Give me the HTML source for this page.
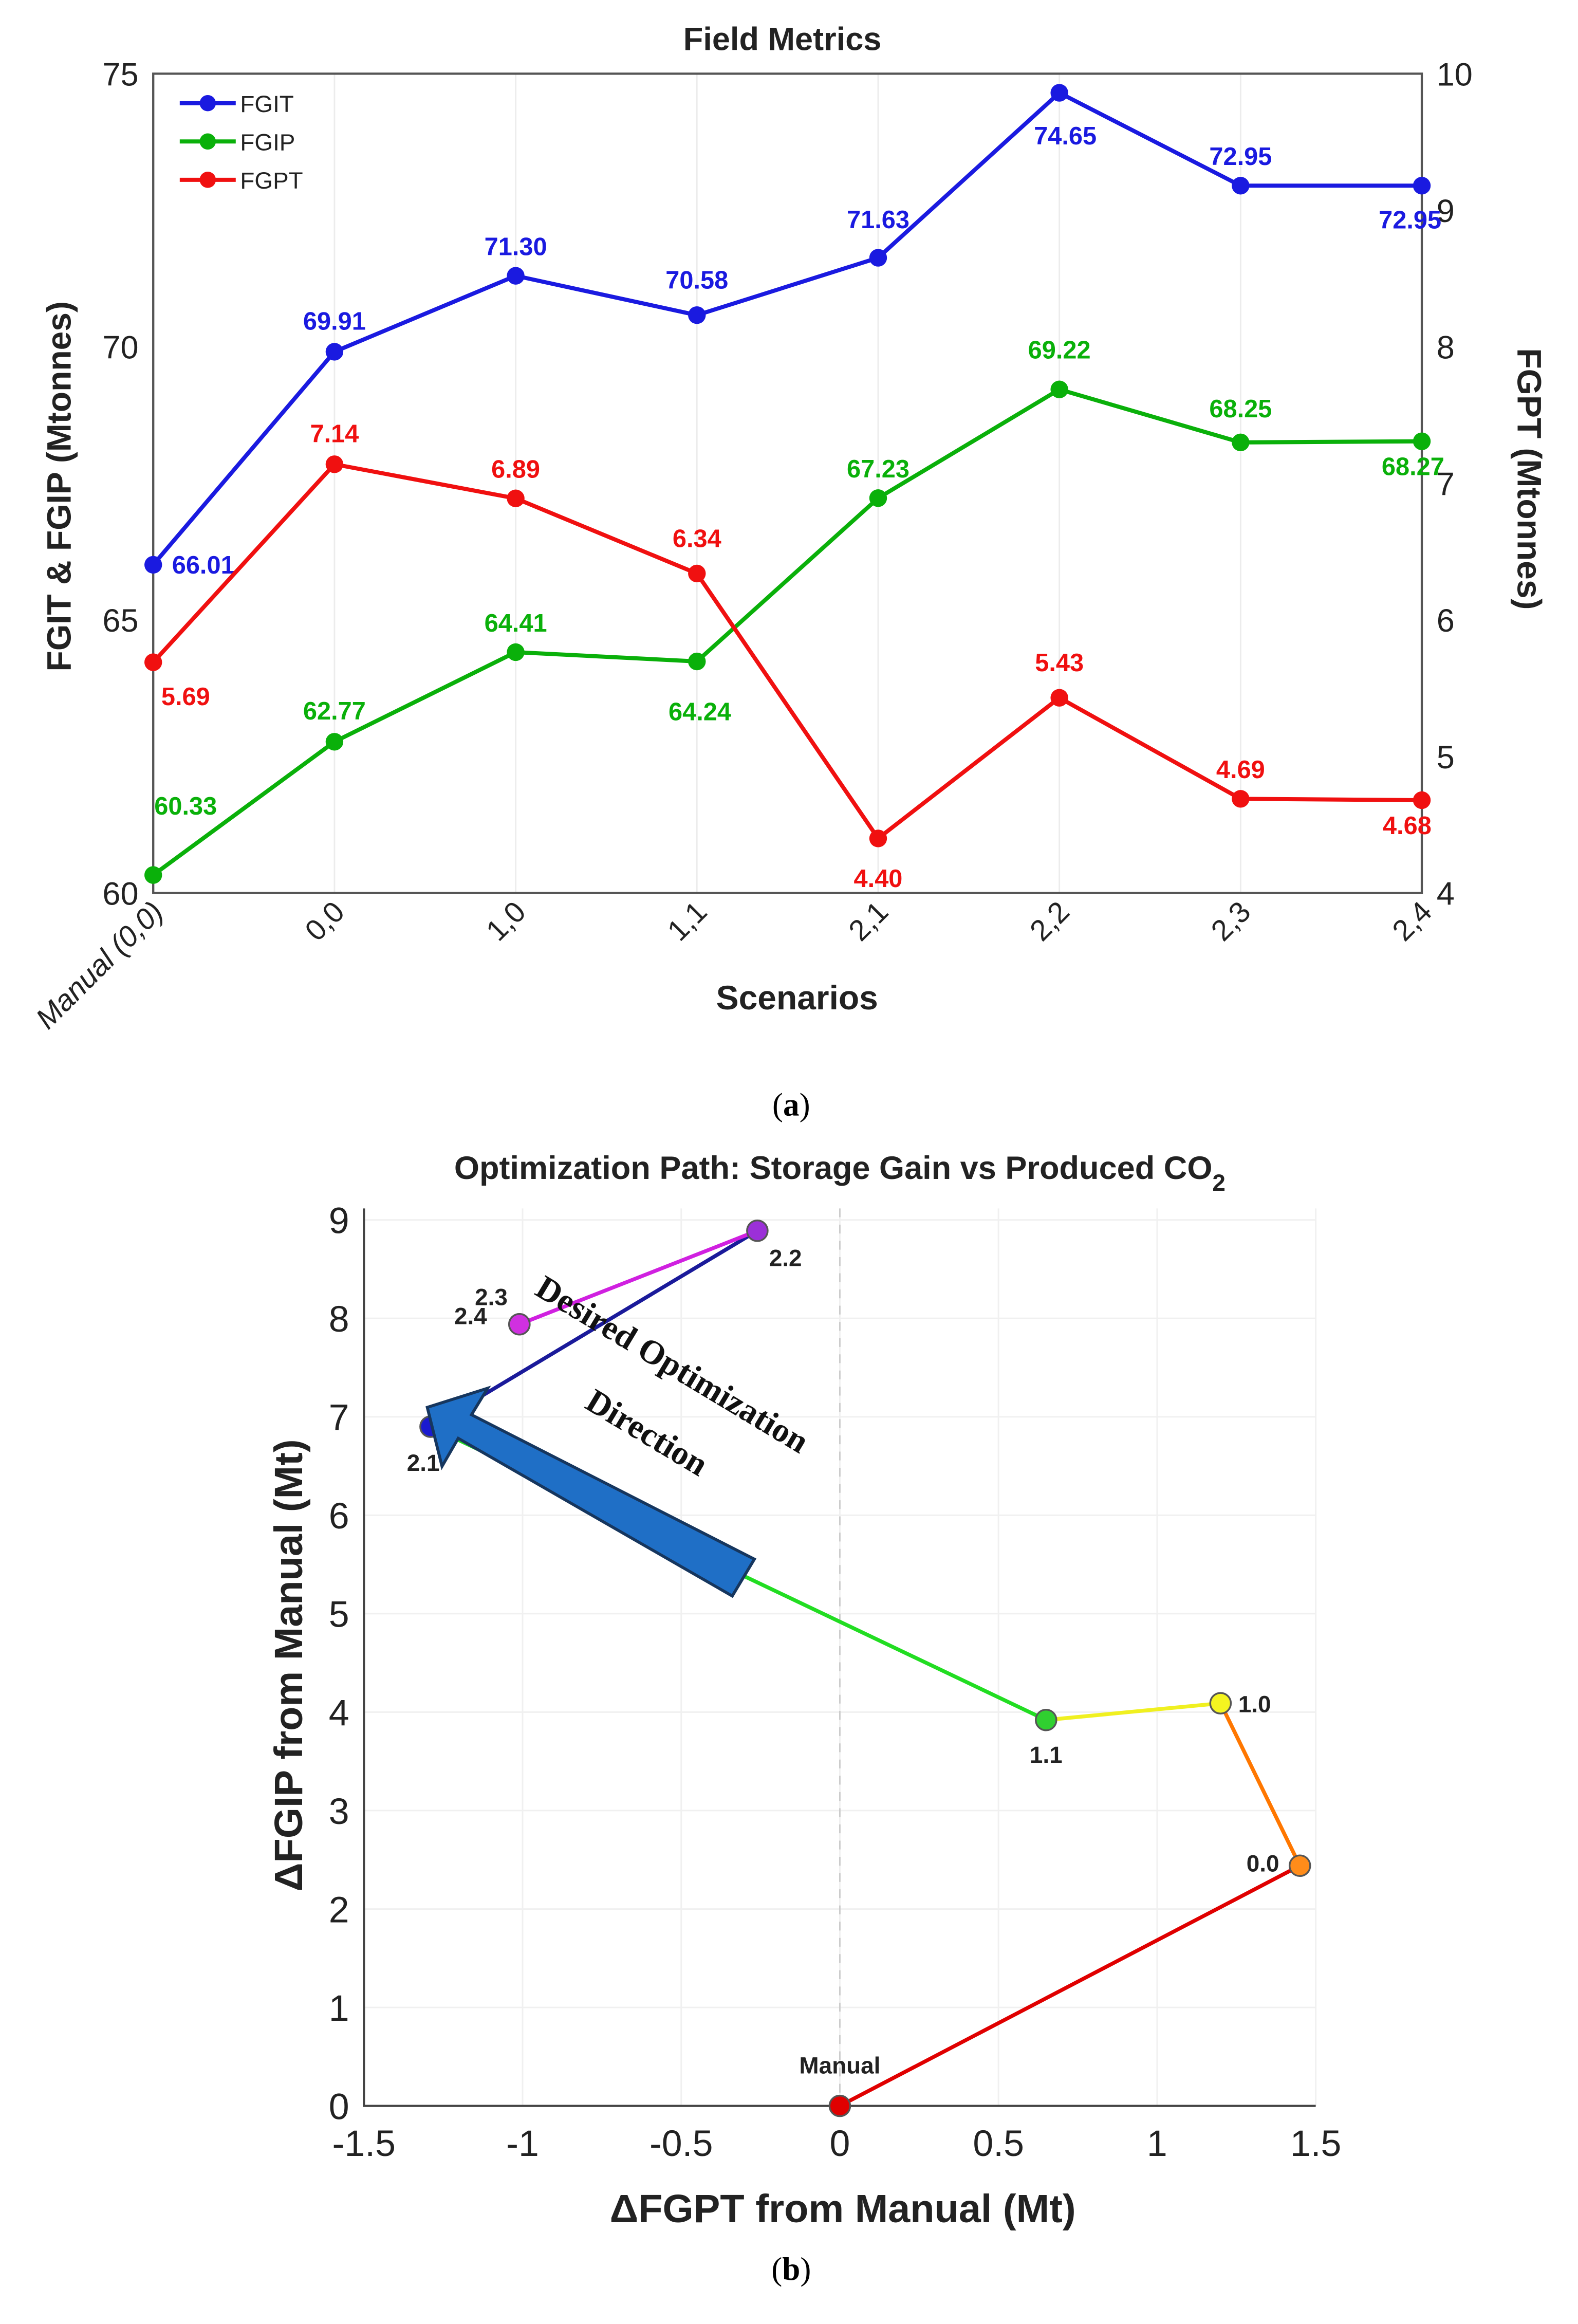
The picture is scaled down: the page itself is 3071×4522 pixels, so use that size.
<!DOCTYPE html>
<html><head><meta charset="utf-8"><style>
html,body{margin:0;padding:0;background:#fff;}
svg{display:block;}
text{font-family:"Liberation Sans",sans-serif;}
</style></head><body>
<svg id="s" width="3071" height="4522" viewBox="0 0 1071 1577" preserveAspectRatio="none">
<g id="ga"></g>
<g id="gb"></g>
<text x="537" y="757" text-anchor="middle" font-size="22" style="font-family:'Liberation Serif',serif">(<tspan font-weight="bold">a</tspan>)</text>
<text x="537" y="1547" text-anchor="middle" font-size="22" style="font-family:'Liberation Serif',serif">(<tspan font-weight="bold">b</tspan>)</text>
</svg>
<script>
const categories=["Manual (0,0)","0,0","1,0","1,1","2,1","2,2","2,3","2,4"];
const fgit=[66.01,69.91,71.30,70.58,71.63,74.65,72.95,72.95];
const fgip=[60.33,62.77,64.41,64.24,67.23,69.22,68.25,68.27];
const fgpt=[5.69,7.14,6.89,6.34,4.40,5.43,4.69,4.68];
const leftTicks=[60,65,70,75];
const rightTicks=[4,5,6,7,8,9,10];
const pathLabels=["Manual","0.0","1.0","1.1","2.1","2.2","2.3","2.4"];
const dFGPT=[0,1.45,1.20,0.65,-1.29,-0.26,-1.01,-1.01];
const dFGIP=[0,2.44,4.09,3.92,6.90,8.89,7.94,7.94];
const xTicksB=[-1.5,-1,-0.5,0,0.5,1,1.5];
const yTicksB=[0,1,2,3,4,5,6,7,8,9];
const NS="http://www.w3.org/2000/svg";
function mk(p,tag,at,txt){const e=document.createElementNS(NS,tag);for(const k in at)e.setAttribute(k,at[k]);if(txt!==undefined)e.textContent=txt;p.appendChild(e);return e;}
// ---- chart a
const ga=document.getElementById('ga');
const L=104,R=965,T=50,B=606;
const xa=i=>L+i*(R-L)/(categories.length-1);
const yl=v=>B-(v-60)/(75-60)*(B-T);
const yr=v=>B-(v-4)/(10-4)*(B-T);
for(let i=0;i<categories.length;i++){let g=mk(ga,'line',{x1:xa(i),x2:xa(i),y1:T,y2:B,stroke:'#ececec','stroke-width':1});

}
let fr=mk(ga,'rect',{x:L,y:T,width:R-L,height:B-T,fill:'none',stroke:'#555','stroke-width':1.5});


leftTicks.forEach(v=>{let t=mk(ga,'text',{x:L-10,y:yl(v)+8,'text-anchor':'end','font-size':22,fill:'#222'},v);

});
rightTicks.forEach(v=>{let t=mk(ga,'text',{x:R+10,y:yr(v)+8,'font-size':22,fill:'#222'},v);

});
categories.forEach((c,i)=>{let t=mk(ga,'text',{x:xa(i)+8,y:B+14,'text-anchor':'end','font-size':20,fill:'#222',transform:`rotate(-45 ${xa(i)+8} ${B+14})`,'font-style':i==0?'italic':'normal'},c);

});
function series(vals,yf,col,name,offs){
 let d=vals.map((v,i)=>(i?'L':'M')+xa(i)+' '+yf(v)).join(' ');
 let p=mk(ga,'path',{d:d,fill:'none',stroke:col,'stroke-width':2.8});
 
 
 vals.forEach((v,i)=>{let c=mk(ga,'circle',{cx:xa(i),cy:yf(v),r:6,fill:col});
 
 
 let o=offs[i];
 let t=mk(ga,'text',{x:xa(i)+o[0],y:yf(v)+o[1],'text-anchor':'middle','font-size':17,'font-weight':'bold',fill:col},v.toFixed(2));
 
 });
}
series(fgit,yl,'#1a1ae0','fgit',[[34,6],[0,-15],[0,-14],[0,-18],[0,-20],[4,35],[0,-14],[-8,29]]);
series(fgip,yl,'#0ab00a','fgip',[[22,-41],[0,-15],[0,-14],[2,40],[0,-14],[0,-21],[0,-17],[-6,23]]);
series(fgpt,yr,'#f01010','fgpt',[[22,29],[0,-15],[0,-14],[0,-18],[0,33],[0,-18],[0,-14],[-10,23]]);
const leg=[['FGIT','#1a1ae0'],['FGIP','#0ab00a'],['FGPT','#f01010']];
leg.forEach((l,i)=>{let y=70+i*26;
let ln=mk(ga,'line',{x1:122,x2:160,y1:y,y2:y,stroke:l[1],'stroke-width':2.8});


let c=mk(ga,'circle',{cx:141,cy:y,r:5.5,fill:l[1]});


let t=mk(ga,'text',{x:163,y:y+6,'font-size':16,fill:'#222'},l[0]);

});
let t1=mk(ga,'text',{x:531,y:34,'text-anchor':'middle','font-size':22,'font-weight':'bold',fill:'#222'},'Field Metrics');


let t2=mk(ga,'text',{x:0,y:0,'text-anchor':'middle','font-size':23,'font-weight':'bold',fill:'#222',transform:'translate(48 330) rotate(-90)'},'FGIT & FGIP (Mtonnes)');


let t3=mk(ga,'text',{x:0,y:0,'text-anchor':'middle','font-size':23,'font-weight':'bold',fill:'#222',transform:'translate(1030 325) rotate(90)'},'FGPT (Mtonnes)');


let t4=mk(ga,'text',{x:541,y:685,'text-anchor':'middle','font-size':23,'font-weight':'bold',fill:'#222'},'Scenarios');


// ---- chart b
const gb=document.getElementById('gb');
const bL=247,bR=893,bT=820,bB=1429;
const xb=v=>bL+(v+1.5)/3*(bR-bL);
const ybb=v=>bB-v*66.8;
xTicksB.forEach(v=>{let g=mk(gb,'line',{x1:xb(v),x2:xb(v),y1:bT,y2:bB,stroke:'#f0f0f0'});


let t=mk(gb,'text',{x:xb(v),y:bB+34,'text-anchor':'middle','font-size':25,fill:'#222'},v);

});
yTicksB.forEach(v=>{let g=mk(gb,'line',{x1:bL,x2:bR,y1:ybb(v),y2:ybb(v),stroke:'#f0f0f0'});


let t=mk(gb,'text',{x:bL-10,y:ybb(v)+9,'text-anchor':'end','font-size':25,fill:'#222'},v);

});
let ax=mk(gb,'path',{d:`M${bL} ${bT} L${bL} ${bB} L${bR} ${bB}`,fill:'none',stroke:'#444','stroke-width':1.5});


let dz=mk(gb,'line',{x1:xb(0),x2:xb(0),y1:bT,y2:bB,stroke:'#ccc','stroke-dasharray':'6 5'});


const segCols=['#e00000','#ff7700','#f0f020','#22dd22','#1a1a9a','#d020e0','#d020e0'];
const ptCols=['#e00000','#ff8c1a','#f5f520','#30d030','#1a1ad0','#9b30d8','#d030e0','#d030e0'];
for(let i=0;i<dFGPT.length-1;i++){let l=mk(gb,'line',{x1:xb(dFGPT[i]),y1:ybb(dFGIP[i]),x2:xb(dFGPT[i+1]),y2:ybb(dFGIP[i+1]),stroke:segCols[i],'stroke-width':2.6});

}
const lo=[[0,-22,'middle'],[-14,4,'end'],[12,6,'start'],[0,29,'middle'],[-5,30,'middle'],[8,24,'start'],[-8,-13,'end'],[-22,0,'end']];
dFGPT.forEach((v,i)=>{let c=mk(gb,'circle',{cx:xb(v),cy:ybb(dFGIP[i]),r:7,fill:ptCols[i],stroke:'#555','stroke-width':1.2});


let t=mk(gb,'text',{x:xb(v)+lo[i][0],y:ybb(dFGIP[i])+lo[i][1],'text-anchor':lo[i][2],'font-size':16,'font-weight':'bold',fill:'#222'},pathLabels[i]);

});
let ar=mk(gb,'polygon',{points:'512,1058 497,1083 311,976 300,995 290,955 331,942 320,960',fill:'#1f6fc6',stroke:'#16365e','stroke-width':2});


let a1=mk(gb,'text',{x:362,y:878,'font-size':23,'font-weight':'bold',fill:'#111',style:"font-family:'Liberation Serif',serif",transform:'rotate(31 362 878)'},'Desired Optimization');


let a2=mk(gb,'text',{x:396,y:955,'font-size':23,'font-weight':'bold',fill:'#111',style:"font-family:'Liberation Serif',serif",transform:'rotate(31 396 955)'},'Direction');


let bt=mk(gb,'text',{x:570,y:800,'text-anchor':'middle','font-size':22,'font-weight':'bold',fill:'#222'});
bt.innerHTML='Optimization Path: Storage Gain vs Produced CO<tspan dy="8" font-size="16">2</tspan>';


let by=mk(gb,'text',{x:0,y:0,'text-anchor':'middle','font-size':27,'font-weight':'bold',fill:'#222',transform:'translate(205 1130) rotate(-90)'},'\u0394FGIP from Manual (Mt)');


let bx=mk(gb,'text',{x:572,y:1508,'text-anchor':'middle','font-size':27,'font-weight':'bold',fill:'#222'},'\u0394FGPT from Manual (Mt)');


</script>
</body></html>
